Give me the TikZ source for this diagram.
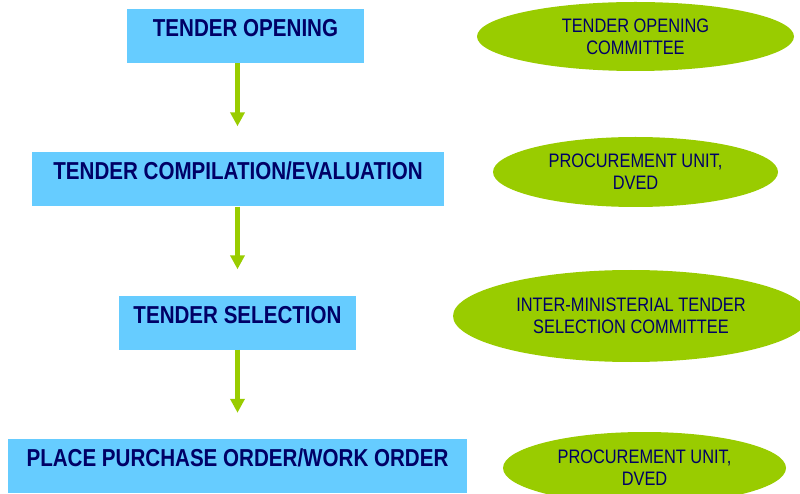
\documentclass[tikz,border=0pt]{standalone}
\usepackage{fontspec}
\newfontfamily\narrowfont{Liberation Sans}[FakeStretch=0.84]
\usetikzlibrary{shapes.geometric,arrows.meta}
\definecolor{skyblue}{RGB}{102, 204, 255}
\definecolor{limegreen}{RGB}{153, 204, 0}
\definecolor{navyblue}{RGB}{0, 0, 102}

\tikzset{
    stage/.style={rectangle, fill=skyblue, inner sep=0pt, text height=27.5pt, text depth=26.5pt,
                  text=navyblue, font=\narrowfont\bfseries\fontsize{24.5}{26}\selectfont},
    actor/.style={ellipse, fill=limegreen, inner sep=0pt, align=center,
                  text=navyblue, font=\narrowfont\fontsize{19.5}{22}\selectfont},
    flow/.style ={draw=limegreen, line width=5pt, -{Triangle[width=14pt,length=14pt]}, shorten >=26pt}
}

\begin{document}
\begin{tikzpicture}[x=1pt, y=-1pt]
            \useasboundingbox (0,0) rectangle (800,494);
            \node[stage, minimum width=237pt] (open)  at (245.5, 36.0) {TENDER OPENING};
            \node[stage, minimum width=412pt] (comp)  at (238.0,179.5) {TENDER COMPILATION/EVALUATION};
            \node[stage, minimum width=237pt] (sel)   at (237.5,322.5) {TENDER SELECTION};
            \node[stage, minimum width=459pt] (order) at (237.5,466.0) {PLACE PURCHASE ORDER/WORK ORDER};
            \node[actor, minimum width=317pt, minimum height=69pt] (toc)   at (635.5, 36.5) {TENDER OPENING\\COMMITTEE};
            \node[actor, minimum width=285pt, minimum height=70pt] (unit)  at (635.5,172.0) {PROCUREMENT UNIT,\\DVED};
            \node[actor, minimum width=356pt, minimum height=92pt] (itsc)  at (631.0,316.0) {INTER-MINISTERIAL TENDER\\SELECTION COMMITTEE};
            \node[actor, minimum width=283pt, minimum height=72pt] (unit2) at (644.5,468.0) {PROCUREMENT UNIT,\\DVED};
            \draw[flow] (open.south -| sel.north) -- (comp.north -| sel.north);
            \draw[flow] (comp.south -| sel.north) -- (sel.north);
            \draw[flow] (sel.south)               -- (order.north -| sel.north);
        \end{tikzpicture}
\end{document}
